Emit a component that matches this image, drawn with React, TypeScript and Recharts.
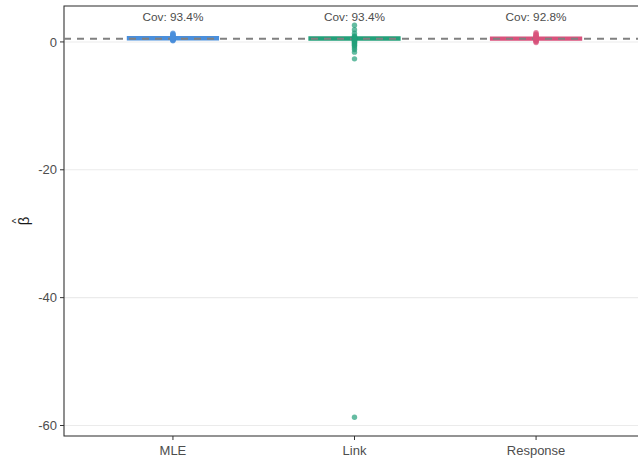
import {
  ComposedChart,
  Scatter,
  XAxis,
  YAxis,
  CartesianGrid,
  ReferenceLine,
  ReferenceArea,
  ReferenceDot,
} from 'recharts'

const groups = ['MLE', 'Link', 'Response']
const colors = ['#4a8fdc', '#23a07a', '#d9527c']
const coverage = [93.4, 93.4, 92.8]
const trueBeta = 0.5

// box (IQR) per group
const boxLow = [0.35, 0.32, 0.3]
const boxHigh = [0.8, 0.78, 0.72]

const mleEstimates = [
  0.19, 0.26, 0.32, 0.37, 0.41, 0.44, 0.47, 0.5, 0.52, 0.55, 0.58, 0.61, 0.65,
  0.69, 0.74, 0.8, 0.87, 0.95, 1.04, 1.15, 1.26, 1.37,
]
const linkEstimates = [
  2.6, 1.9, 1.35, 0.95, 0.8, 0.7, 0.6, 0.5, 0.45, 0.38, 0.3, 0.2, 0.1, 0.0,
  -0.1, -0.22, -0.35, -0.5, -0.65, -0.9, -1.2, -1.6, -2.65, -58.7,
]
const responseEstimates = [
  -0.1, 0.05, 0.15, 0.25, 0.32, 0.38, 0.43, 0.47, 0.5, 0.53, 0.57, 0.6, 0.65,
  0.7, 0.76, 0.83, 0.9, 1.0, 1.12, 1.25, 1.45,
]

const yTicks = [0, -20, -40, -60]
const yDomain: [number, number] = [-61.64, 5.62]
const xDomain: [number, number] = [0.4, 3.6]
const labelY = 3.98

const estimates = [mleEstimates, linkEstimates, responseEstimates]
const seriesData = estimates.map((vals, i) => vals.map((y) => ({ x: i + 1, y })))

const textColor = '#4d4d4d'
const font = '"Liberation Sans", Arial, sans-serif'

// rotated beta with a hat, drawn as two glyphs so the hat sits cleanly above
function BetaLabel(props: any) {
  const vb = props.viewBox
  const x = vb.x + 24
  const y = vb.y + vb.height / 2
  return (
    <g transform={`translate(${x}, ${y}) rotate(-90)`}>
      <text x={0} y={5} textAnchor="middle" fill="#1a1a1a" fontSize={15}>
        β
      </text>
      <text x={0} y={-4} textAnchor="middle" fill="#1a1a1a" fontSize={11}>
        ^
      </text>
    </g>
  )
}

export default function App() {
  return (
    <div
      style={{
        position: 'absolute',
        left: 0,
        top: 0,
        width: 638,
        height: 458,
        overflow: 'hidden',
        background: '#fff',
        fontFamily: font,
      }}
    >
      <ComposedChart
        width={647}
        height={458}
        margin={{ top: 6, right: 2, bottom: 0, left: 0 }}
      >
        <CartesianGrid vertical={false} stroke="#ebebeb" strokeWidth={1.1} />
        <XAxis
          type="number"
          dataKey="x"
          domain={xDomain}
          ticks={[1, 2, 3]}
          tickFormatter={(v: number) => groups[v - 1]}
          allowDataOverflow
          height={22}
          axisLine={false}
          tickLine={{ stroke: '#333' }}
          tickSize={4}
          tickMargin={6}
          tick={{ fill: textColor, fontSize: 13 }}
        />
        <YAxis
          type="number"
          dataKey="y"
          domain={yDomain}
          ticks={yTicks}
          allowDataOverflow
          width={64}
          axisLine={false}
          tickLine={{ stroke: '#333' }}
          tickSize={4}
          tickMargin={3}
          tick={{ fill: textColor, fontSize: 13 }}
          label={{ content: BetaLabel }}
        />
        {groups.map((g, i) => (
          <ReferenceArea
            key={`box-${g}`}
            x1={i + 0.75}
            x2={i + 1.25}
            y1={boxLow[i]}
            y2={boxHigh[i]}
            fill={colors[i]}
            fillOpacity={1}
            stroke={colors[i]}
            strokeWidth={1.5}
          />
        ))}
        <ReferenceLine
          y={trueBeta}
          stroke="#808080"
          strokeWidth={2}
          strokeDasharray="7 6"
        />
        {groups.map((g, i) => (
          <Scatter
            key={g}
            name={g}
            data={seriesData[i]}
            isAnimationActive={false}
            shape={(p: any) => (
              <circle cx={p.cx} cy={p.cy} r={2.7} fill={colors[i]} fillOpacity={0.7} />
            )}
          />
        ))}
        {groups.map((g, i) => (
          <ReferenceDot
            key={`cov-${g}`}
            x={i + 1}
            y={labelY}
            r={0}
            fill="none"
            stroke="none"
            label={{
              value: `Cov: ${coverage[i]}%`,
              position: 'center',
              fill: textColor,
              fontSize: 11.8,
            }}
          />
        ))}
        <ReferenceArea
          x1={xDomain[0]}
          x2={xDomain[1]}
          y1={yDomain[0]}
          y2={yDomain[1]}
          fill="none"
          stroke="#333"
          strokeWidth={1.1}
        />
      </ComposedChart>
    </div>
  )
}
